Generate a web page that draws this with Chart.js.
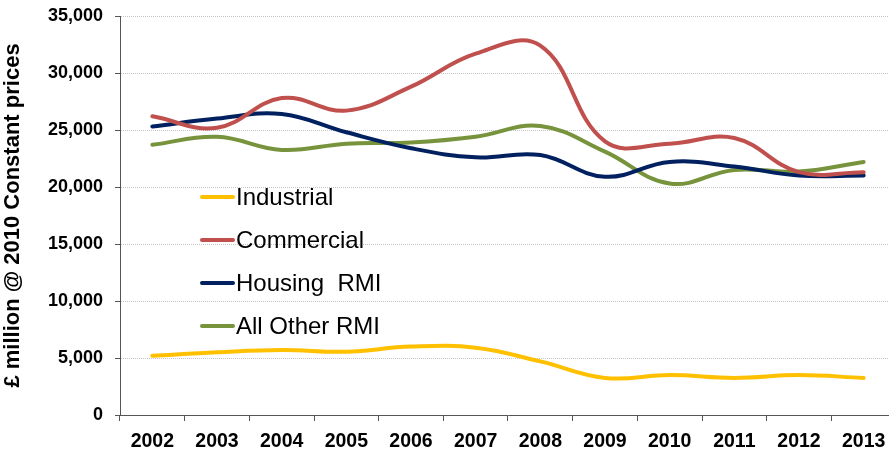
<!DOCTYPE html>
<html>
<head>
<meta charset="utf-8">
<script src="https://cdn.jsdelivr.net/npm/chart.js@4.4.1/dist/chart.umd.min.js"></script>
<style>
  html, body { margin: 0; padding: 0; background: #fff; overflow: hidden; }
  #wrap { width: 889px; height: 453px; overflow: hidden; }
</style>
</head>
<body>
<div id="wrap"><canvas id="myCanvas" width="900" height="453"></canvas></div>
<script>
// values (£ million @ 2010 constant prices)
const years = ['2002', '2003', '2004', '2005', '2006', '2007', '2008', '2009', '2010', '2011', '2012', '2013'];
const industrial = [5200, 5500, 5700, 5550, 6000, 5900, 4700, 3250, 3500, 3250, 3500, 3250];
const commercial = [26200, 25200, 27800, 26700, 28800, 31700, 32400, 24000, 23800, 24300, 21300, 21300];
const housingRmi = [25300, 26000, 26400, 24800, 23400, 22600, 22800, 20900, 22200, 21800, 21000, 21000];
const otherRmi = [23700, 24400, 23250, 23800, 23900, 24400, 25350, 23100, 20300, 21500, 21350, 22200];
const yTicks = [0, 5000, 10000, 15000, 20000, 25000, 30000, 35000];

const font = 'Arial, "Liberation Sans", sans-serif';

// legend sits inside the plot, drawn by hand
const insideLegend = {
    id: 'insideLegend',
    afterDraw(chart) {
        const c = chart.ctx;
        c.save();
        c.font = '24px ' + font;
        c.textBaseline = 'middle';
        chart.data.datasets.forEach((ds, i) => {
            const y = 197 + i * 43;
            c.strokeStyle = ds.borderColor;
            c.lineWidth = 4;
            c.lineCap = 'round';
            c.beginPath();
            c.moveTo(202, y);
            c.lineTo(233, y);
            c.stroke();
            c.fillStyle = '#000';
            c.fillText(ds.label, 236, y + 1);
        });
        c.restore();
    }
};

function line(label, data, color) {
    return {
        label: label,
        data: data,
        borderColor: color,
        backgroundColor: color,
        borderWidth: 4,
        pointRadius: 0,
        fill: false,
        tension: 0.4,
        borderCapStyle: 'round'
    };
}

document.addEventListener('DOMContentLoaded', () => {
    const ctx = document.getElementById('myCanvas').getContext('2d');

    const data = {
        labels: years,
        datasets: [
            line('Industrial', industrial, '#FFC000'),
            line('Commercial', commercial, '#C0504D'),
            line('Housing  RMI', housingRmi, '#002060'),
            line('All Other RMI', otherRmi, '#77933C')
        ]
    };

    const config = {
        type: 'line',
        data: data,
        options: {
            responsive: false,
            animation: false,
            layout: { padding: { top: 16, right: 4, left: 0, bottom: 0 } },
            plugins: {
                legend: { display: false },
                tooltip: { enabled: false }
            },
            scales: {
                x: {
                    offset: true,
                    afterFit: (s) => { s.height = 38; },
                    grid: {
                        offset: true,
                        drawOnChartArea: false,
                        drawTicks: true,
                        tickLength: 6,
                        tickColor: '#555'
                    },
                    border: { color: '#555', width: 1 },
                    ticks: {
                        color: '#000',
                        padding: 9,
                        maxRotation: 0,
                        autoSkip: false,
                        font: { family: font, size: 19.5, weight: 'bold' }
                    }
                },
                y: {
                    min: 0,
                    max: 35000,
                    afterFit: (s) => { s.width = 120; s.paddingTop = 0; s.paddingBottom = 0; },
                    afterBuildTicks: (s) => { s.ticks = yTicks.map(v => ({ value: v })); },
                    grid: {
                        color: '#c4c4c4',
                        lineWidth: 1,
                        tickLength: 5,
                        tickColor: '#555',
                        tickBorderDash: []
                    },
                    border: { color: '#555', width: 1, dash: [1, 1] },
                    ticks: {
                        color: '#000',
                        padding: 12,
                        font: { family: font, size: 18, weight: 'bold' },
                        callback: (v) => v.toLocaleString('en-GB')
                    },
                    title: {
                        display: true,
                        text: '£ million @ 2010 Constant prices',
                        color: '#000',
                        padding: { top: 0, bottom: 0 },
                        font: { family: font, size: 22, weight: 'bold' }
                    }
                }
            }
        },
        plugins: [insideLegend]
    };

    const myChart = new Chart(ctx, config);
});
</script>
</body>
</html>
